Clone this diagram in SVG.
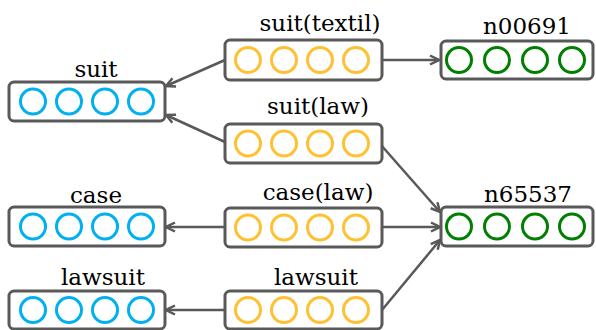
<svg xmlns="http://www.w3.org/2000/svg" width="596" height="330" viewBox="0 0 596 330">
<defs>
<style>
.box{fill:#fff;stroke:#595959;stroke-width:3}
.b circle{fill:none;stroke:#00B0F0;stroke-width:3}
.o circle{fill:none;stroke:#FFC131;stroke-width:3}
.g circle{fill:none;stroke:#007F00;stroke-width:3}
text{font-family:'DejaVu Serif','Liberation Serif',serif;font-size:23px;fill:#000;text-anchor:middle}
.conn line{stroke:#595959;stroke-width:2.5;marker-end:url(#arr)}
</style>
<marker id="arr" markerWidth="12" markerHeight="12" viewBox="0 0 12 12" refX="10.5" refY="6" orient="auto" markerUnits="userSpaceOnUse">
<path d="M1.5,1.5 L10.5,6 L1.5,10.5" fill="none" stroke="#595959" stroke-width="2.5" stroke-linejoin="miter"/>
</marker>
</defs>
<rect width="596" height="330" fill="#fff"/>
<g class="conn">
<line x1="225" y1="60" x2="166" y2="86"/>
<line x1="225" y1="142" x2="166" y2="115"/>
<line x1="382" y1="60" x2="439" y2="60"/>
<line x1="381" y1="145" x2="440" y2="212"/>
<line x1="382" y1="227" x2="440" y2="227"/>
<line x1="382" y1="310" x2="440" y2="240"/>
<line x1="225" y1="227" x2="166" y2="227"/>
<line x1="225" y1="310" x2="166" y2="310"/>
</g>
<g id="suit-textil" class="o">
<text x="320" y="31">suit(textil)</text>
<rect class="box" x="225" y="40" width="157" height="40" rx="5"/>
<circle cx="248" cy="60" r="12.5"/><circle cx="284" cy="60" r="12.5"/><circle cx="320" cy="60" r="12.5"/><circle cx="356" cy="60" r="12.5"/>
</g>
<g id="n00691" class="g">
<text x="527" y="34">n00691</text>
<rect class="box" x="441" y="41" width="152" height="38" rx="5"/>
<circle cx="459" cy="60" r="12.5"/><circle cx="497" cy="60" r="12.5"/><circle cx="535" cy="60" r="12.5"/><circle cx="572" cy="60" r="12.5"/>
</g>
<g id="suit" class="b">
<text x="96" y="77">suit</text>
<rect class="box" x="9" y="82" width="156" height="39" rx="5"/>
<circle cx="33" cy="101.5" r="12.5"/><circle cx="69" cy="101.5" r="12.5"/><circle cx="105" cy="101.5" r="12.5"/><circle cx="141" cy="101.5" r="12.5"/>
</g>
<g id="suit-law" class="o">
<text x="318" y="114">suit(law)</text>
<rect class="box" x="225" y="124" width="157" height="39" rx="5"/>
<circle cx="248" cy="143.5" r="12.5"/><circle cx="284" cy="143.5" r="12.5"/><circle cx="320" cy="143.5" r="12.5"/><circle cx="356" cy="143.5" r="12.5"/>
</g>
<g id="case" class="b">
<text x="96" y="203">case</text>
<rect class="box" x="9" y="207" width="156" height="39" rx="5"/>
<circle cx="33" cy="226.5" r="12.5"/><circle cx="69" cy="226.5" r="12.5"/><circle cx="105" cy="226.5" r="12.5"/><circle cx="141" cy="226.5" r="12.5"/>
</g>
<g id="case-law" class="o">
<text x="318" y="200">case(law)</text>
<rect class="box" x="225" y="208" width="157" height="39" rx="5"/>
<circle cx="248" cy="227.5" r="12.5"/><circle cx="284" cy="227.5" r="12.5"/><circle cx="320" cy="227.5" r="12.5"/><circle cx="356" cy="227.5" r="12.5"/>
</g>
<g id="n65537" class="g">
<text x="528" y="202">n65537</text>
<rect class="box" x="441" y="207" width="152" height="39" rx="5"/>
<circle cx="459" cy="226.5" r="12.5"/><circle cx="497" cy="226.5" r="12.5"/><circle cx="535" cy="226.5" r="12.5"/><circle cx="572" cy="226.5" r="12.5"/>
</g>
<g id="lawsuit" class="b">
<text x="103" y="285">lawsuit</text>
<rect class="box" x="9" y="291" width="156" height="38" rx="5"/>
<circle cx="33" cy="310" r="12.5"/><circle cx="69" cy="310" r="12.5"/><circle cx="105" cy="310" r="12.5"/><circle cx="141" cy="310" r="12.5"/>
</g>
<g id="lawsuit-sense" class="o">
<text x="316" y="285">lawsuit</text>
<rect class="box" x="225" y="291" width="157" height="38" rx="5"/>
<circle cx="248" cy="310" r="12.5"/><circle cx="284" cy="310" r="12.5"/><circle cx="320" cy="310" r="12.5"/><circle cx="356" cy="310" r="12.5"/>
</g>
</svg>
